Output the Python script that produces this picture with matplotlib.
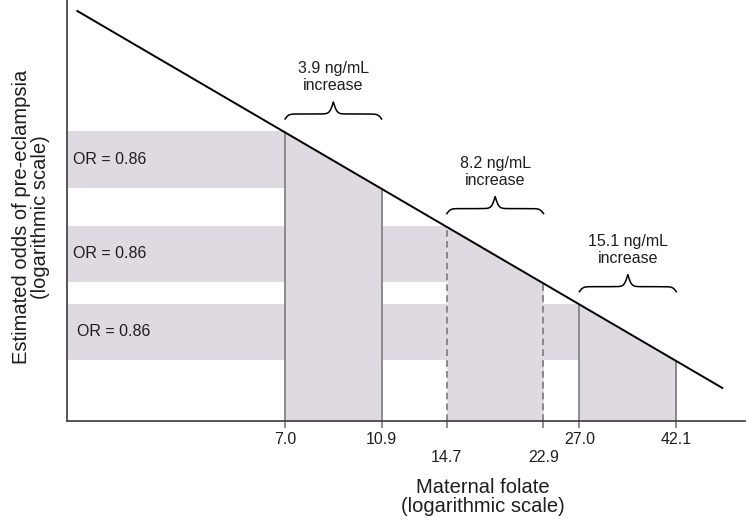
import numpy as np
import matplotlib
matplotlib.use('Agg')
import matplotlib.pyplot as plt
from matplotlib.ticker import NullLocator

plt.rcParams['font.family'] = ['Liberation Sans', 'DejaVu Sans']

# values
folate_ticks = [7.0, 10.9, 14.7, 22.9, 27.0, 42.1]
tick_labels = ['7.0', '10.9', '\n14.7', '\n22.9', '27.0', '42.1']
odds_at_ticks = [1.0, 0.86, 0.777, 0.668, 0.631, 0.543]
line_x = [2.7, 52.0]
line_y = [1.377, 0.504]
pairs = [(0, 1), (2, 3), (4, 5)]
pair_dashed = [False, True, False]
increase_labels = ['3.9 ng/mL\nincrease', '8.2 ng/mL\nincrease', '15.1 ng/mL\nincrease']
or_labels = ['OR = 0.86', 'OR = 0.86', 'OR = 0.86']

shade = '#dfd9e2'
grey = '#7a7a7a'
txt = '#1e1e1e'

fig = plt.figure(figsize=(7.46, 5.25), dpi=100)
ax = fig.add_axes([67/746, 1 - 421/525, 678/746, 421/525])
ax.set_xscale('log')
ax.set_yscale('log')
ax.set_xlim(2.575, 57.7)
ax.set_ylim(0.4615, 1.418)

x0 = ax.get_xlim()[0]
y0 = ax.get_ylim()[0]

# shaded horizontal bands and vertical strips under the line
for (i, j), dashed in zip(pairs, pair_dashed):
    xa, xb = folate_ticks[i], folate_ticks[j]
    ya, yb = odds_at_ticks[i], odds_at_ticks[j]
    ax.fill_between([x0, xa], yb, ya, color=shade, lw=0, zorder=1)
    ax.fill_between([xa, xb], y0, [ya, yb], color=shade, lw=0, zorder=1)
    ls = (0, (4, 2.5)) if dashed else '-'
    ax.vlines([xa, xb], y0, [ya, yb], colors=grey, lw=1.2, linestyles=ls, zorder=2)

# the odds line
ax.plot(line_x, line_y, color='black', lw=1.4, zorder=3)

# OR labels
or_x = [0.009, 0.009, 0.015]
for (i, j), lab, xo in zip(pairs, or_labels, or_x):
    yc = np.sqrt(odds_at_ticks[i] * odds_at_ticks[j])
    ax.text(xo, yc, lab, transform=ax.get_yaxis_transform(), ha='left', va='center',
            fontsize=11.5, color=txt)

# curly braces with labels
def brace(ax, xa, xb, ya, label):
    p1 = ax.transData.transform((xa, ya))
    p2 = ax.transData.transform((xb, ya))
    w = p2[0] - p1[0]
    base = p1[1] + 12
    s = lambda v: 1 / (1 + np.exp(-0.55 * v))
    xs = np.linspace(0, w / 2, 200)
    half = 10 * s(xs) + 24 * s(xs - w / 2) - 5
    xf = np.concatenate([xs, w - xs[::-1][1:]])
    yf = np.concatenate([half, half[::-1][1:]])
    pts = ax.transData.inverted().transform(np.column_stack([p1[0] + xf, base + yf]))
    ax.plot(pts[:, 0], pts[:, 1], color='black', lw=1.1, zorder=3, clip_on=False)
    top = ax.transData.inverted().transform((p1[0] + w / 2, base + yf.max()))
    ax.annotate(label, xy=top, xytext=(0, 18), textcoords='offset points',
                ha='center', va='center', fontsize=11.5, color=txt, linespacing=1.15)

for (i, j), lab in zip(pairs, increase_labels):
    brace(ax, folate_ticks[i], folate_ticks[j], odds_at_ticks[i], lab)

# axes styling
ax.set_xticks(folate_ticks)
ax.set_xticklabels(tick_labels)
ax.xaxis.set_minor_locator(NullLocator())
ax.set_yticks([])
ax.yaxis.set_minor_locator(NullLocator())
ax.tick_params(axis='x', length=5, width=1.2, color=grey, labelsize=11.5,
               labelcolor=txt, pad=3)
for side in ['top', 'right']:
    ax.spines[side].set_visible(False)
for side in ['left', 'bottom']:
    ax.spines[side].set_color('#3a3a3a')
    ax.spines[side].set_linewidth(1.2)

fig.text(483/746, 1 - 497/525, 'Maternal folate\n(logarithmic scale)', ha='center',
         va='center', fontsize=14.5, color=txt, linespacing=1.05)
fig.text(31/746, 1 - 217/525, 'Estimated odds of pre-eclampsia\n(logarithmic scale)',
         ha='center', va='center', rotation=90, fontsize=14.5, color=txt,
         linespacing=1.05)

fig.savefig('out.png', dpi=100)
